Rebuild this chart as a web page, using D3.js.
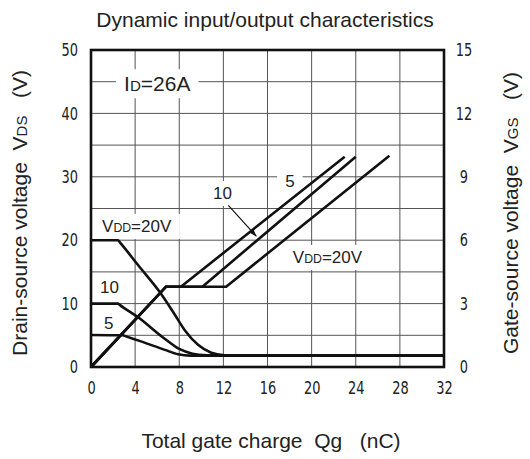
<!DOCTYPE html>
<html>
<head>
<meta charset="utf-8">
<script src="https://cdn.jsdelivr.net/npm/d3@7"></script>
<style>
  body { margin: 0; background: #fff; }
  text { font-family: "Liberation Sans", Arial, sans-serif; fill: #222; }
  .tick text { font-family: "DejaVu Sans Condensed", "DejaVu Sans", sans-serif; font-size: 18px; fill: #222; }
</style>
</head>
<body>
<script>

// ================================ data
var qgTicks = [0, 4, 8, 12, 16, 20, 24, 28, 32];
var vdsTicks = [0, 10, 20, 30, 40, 50];
var vgsTicks = [0, 3, 6, 9, 12, 15];
var qgGrid = [4, 8, 12, 16, 20, 24, 28];
var vdsGrid = [5, 10, 15, 20, 25, 30, 35, 40, 45];

// drain-source voltage (left axis), [Qg, VDS]
var vds20 = [[0, 20], [2.45, 20], [2.6, 19.7], [4.3, 16], [6.2, 11.9], [7.4, 8.8], [8.5, 5.8], [9.7, 3.5], [10.9, 2.25], [12.1, 1.85], [13, 1.8], [32, 1.8]];
var vds10 = [[0, 10], [2.45, 10], [2.6, 9.8], [4.3, 7.8], [6.5, 4.7], [8.0, 2.85], [9.2, 2.1], [10.5, 1.85], [12, 1.8], [32, 1.8]];
var vds5 = [[0, 5.05], [2.9, 5], [3.05, 4.91], [4.6, 4.0], [6.7, 2.7], [7.9, 2.0], [9, 1.8], [32, 1.8]];

// gate-source voltage (right axis), [Qg, VGS]
var vgs5 = [[0, 0], [6.8, 3.8], [8.15, 3.8], [23.0, 9.95]];
var vgs10 = [[0, 0], [6.8, 3.8], [10.1, 3.8], [24.0, 9.95]];
var vgs20 = [[0, 0], [6.8, 3.8], [12.25, 3.8], [27.05, 10.0]];

// ================================ chart area
var svgWidth = 530;
var svgHeight = 459;

var chartMargin = {
  top: 50,
  right: 86,
  bottom: 92,
  left: 91
};

var chartWidth = svgWidth - chartMargin.left - chartMargin.right;
var chartHeight = svgHeight - chartMargin.top - chartMargin.bottom;

// tick labels are a narrow face in the original, squeeze them a bit
var squeeze = 0.8;

var svg = d3.select("body")
  .append("svg")
  .attr("height", svgHeight)
  .attr("width", svgWidth);

var chartGroup = svg.append("g")
  .attr("transform", `translate(${chartMargin.left}, ${chartMargin.top})`);

var xScale = d3.scaleLinear().domain([0, 32]).range([0, chartWidth]);
var yLeft = d3.scaleLinear().domain([0, 50]).range([chartHeight, 0]);
var yRight = d3.scaleLinear().domain([0, 15]).range([chartHeight, 0]);

// ================================ grid
chartGroup.append("g")
  .selectAll("line")
  .data(qgGrid)
  .enter()
  .append("line")
  .attr("x1", d => xScale(d))
  .attr("x2", d => xScale(d))
  .attr("y1", 0)
  .attr("y2", chartHeight)
  .attr("stroke", "#555")
  .attr("stroke-width", 1);

chartGroup.append("g")
  .selectAll("line")
  .data(vdsGrid)
  .enter()
  .append("line")
  .attr("x1", 0)
  .attr("x2", chartWidth)
  .attr("y1", d => yLeft(d))
  .attr("y2", d => yLeft(d))
  .attr("stroke", "#555")
  .attr("stroke-width", 1);

// ================================ axes (labels only)
var bottomAxis = d3.axisBottom(xScale).tickValues(qgTicks).tickSize(0).tickPadding(14);
var leftAxis = d3.axisLeft(yLeft).tickValues(vdsTicks).tickSize(0).tickPadding(13);
var rightAxis = d3.axisRight(yRight).tickValues(vgsTicks).tickSize(0).tickPadding(20);

chartGroup.append("g")
  .attr("transform", `translate(0, ${chartHeight})`)
  .call(bottomAxis)
  .call(g => g.select(".domain").remove())
  .selectAll("text")
  .attr("transform", `scale(${squeeze}, 1)`);

chartGroup.append("g")
  .call(leftAxis)
  .call(g => g.select(".domain").remove())
  .selectAll("text")
  .attr("x", -13 / squeeze)
  .attr("transform", `scale(${squeeze}, 1)`);

chartGroup.append("g")
  .attr("transform", `translate(${chartWidth}, 0)`)
  .call(rightAxis)
  .call(g => g.select(".domain").remove())
  .selectAll("text")
  .attr("x", 20 / squeeze)
  .attr("transform", `scale(${squeeze}, 1)`)
  .style("text-anchor", "middle");

// ================================ annotations
var labelGroup = chartGroup.append("g");

// text pieces: [text, small?]
function addLabel(parts, q, v, size, boxed) {
  var t = labelGroup.append("text")
    .attr("x", xScale(q))
    .attr("y", yLeft(v))
    .style("font-size", size + "px");
  parts.forEach(function (p) {
    t.append("tspan").text(p[0]).style("font-size", p[1] ? (size * 0.72) + "px" : null);
  });
  if (boxed) {
    var b = t.node().getBBox();
    labelGroup.insert("rect", () => t.node())
      .attr("x", b.x - 8)
      .attr("y", b.y - 3)
      .attr("width", b.width + 16)
      .attr("height", b.height + 6)
      .attr("fill", "#fff");
  }
  return t;
}

addLabel([["I"], ["D", true], ["=26A"]], 3.0, 43.5, 21, true);
addLabel([["V"], ["DD", true], ["=20V"]], 1.0, 21.3, 17, true);
addLabel([["10"]], 0.82, 11.6, 17, false);
addLabel([["5"]], 1.18, 6.0, 17, false);
addLabel([["10"]], 11.06, 26.5, 17, true);
addLabel([["5"]], 17.6, 28.4, 17, true);
addLabel([["V"], ["DD", true], ["=20V"]], 18.3, 16.4, 17, true);

// ================================ curves
var lineVds = d3.line()
  .x(d => xScale(d[0]))
  .y(d => yLeft(d[1]))
  .curve(d3.curveMonotoneX);

var lineVgs = d3.line()
  .x(d => xScale(d[0]))
  .y(d => yRight(d[1]));

[vds20, vds10, vds5].forEach(function (s) {
  chartGroup.append("path")
    .datum(s)
    .attr("d", lineVds)
    .attr("fill", "none")
    .attr("stroke", "#111")
    .attr("stroke-width", 2.6);
});

[vgs5, vgs10, vgs20].forEach(function (s) {
  chartGroup.append("path")
    .datum(s)
    .attr("d", lineVgs)
    .attr("fill", "none")
    .attr("stroke", "#111")
    .attr("stroke-width", 2.6)
    .attr("stroke-linejoin", "miter");
});

// arrow to the 10 V line
svg.append("defs").append("marker")
  .attr("id", "arrow")
  .attr("viewBox", "0 0 10 10")
  .attr("refX", 10)
  .attr("refY", 5)
  .attr("markerWidth", 7)
  .attr("markerHeight", 7)
  .attr("orient", "auto")
  .append("path")
  .attr("d", "M0,1.5L10,5L0,8.5z")
  .attr("fill", "#111");

chartGroup.append("line")
  .attr("x1", xScale(12.45))
  .attr("y1", yLeft(25.5))
  .attr("x2", xScale(15.0))
  .attr("y2", yLeft(20.6))
  .attr("stroke", "#111")
  .attr("stroke-width", 1.1)
  .attr("marker-end", "url(#arrow)");

// ================================ frame
chartGroup.append("rect")
  .attr("x", 0)
  .attr("y", 0)
  .attr("width", chartWidth)
  .attr("height", chartHeight)
  .attr("fill", "none")
  .attr("stroke", "#111")
  .attr("stroke-width", 2.6);

// ================================ titles
svg.append("text")
  .attr("x", 265)
  .attr("y", 27)
  .attr("text-anchor", "middle")
  .style("font-size", "21px")
  .text("Dynamic input/output characteristics");

svg.append("text")
  .attr("x", 271)
  .attr("y", 448)
  .attr("text-anchor", "middle")
  .style("font-size", "21px")
  .style("white-space", "pre")
  .text("Total gate charge  Qg   (nC)");

var leftTitle = svg.append("text")
  .attr("transform", "translate(27, 213) rotate(-90)")
  .attr("text-anchor", "middle")
  .style("font-size", "21px")
  .style("white-space", "pre");
leftTitle.append("tspan").text("Drain-source voltage  V");
leftTitle.append("tspan").text("DS").style("font-size", "15px");
leftTitle.append("tspan").text("   (V)");

var rightTitle = svg.append("text")
  .attr("transform", "translate(518, 213) rotate(-90)")
  .attr("text-anchor", "middle")
  .style("font-size", "21px")
  .style("white-space", "pre");
rightTitle.append("tspan").text("Gate-source voltage  V");
rightTitle.append("tspan").text("GS").style("font-size", "15px");
rightTitle.append("tspan").text("   (V)");

</script>
</body>
</html>
